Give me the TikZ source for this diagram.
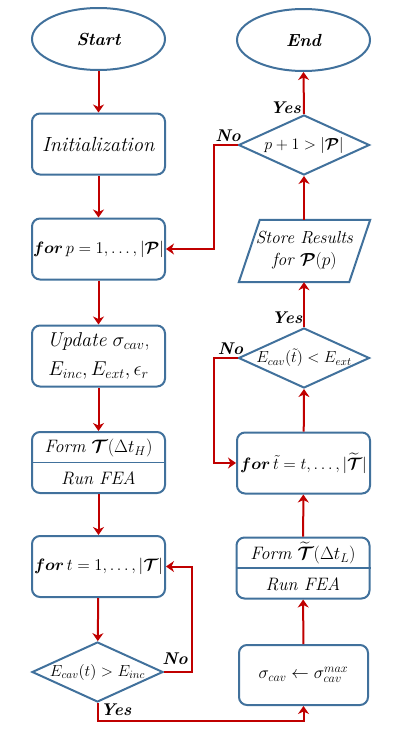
\RequirePackage{fix-cm}
\documentclass[tikz,border=0pt]{standalone}
\usepackage{amsmath,bm}
\usetikzlibrary{shapes.geometric,arrows.meta,calc}
\definecolor{bblue}{RGB}{65,113,156}
\definecolor{ared}{RGB}{192,0,0}
\begin{document}
\begin{tikzpicture}[x=1pt,y=-1pt,
 box/.style={draw=bblue, line width=2pt, rounded corners=8pt, minimum width=133pt, minimum height=61pt, inner sep=1pt, align=center, font=\fontsize{17.5}{23}\selectfont},
 txt/.style={inner sep=0pt, align=center, font=\fontsize{18}{22}\selectfont},
 term/.style={ellipse, draw=bblue, line width=2pt, minimum width=133pt, minimum height=62pt, inner sep=0pt, font=\fontsize{17.5}{20}\selectfont\bfseries\itshape},
 dec/.style={diamond, draw=bblue, line width=2pt, minimum width=131pt, minimum height=60pt, inner sep=0pt},
 dlab/.style={font=\fontsize{16}{18}\selectfont, inner sep=0pt},
 arr/.style={draw=ared, line width=2pt, -{Stealth[length=8pt,width=11pt,inset=2.5pt]}},
 lab/.style={font=\fontsize{17}{20}\selectfont\bfseries\itshape, inner sep=0pt}]
\useasboundingbox (0,0) rectangle (404,736);
% left column
\node[term] (start) at (98.5,39) {Start};
\node[box, font=\fontsize{20.5}{24}\selectfont] (init) at (98.5,144) {\textit{Initialization}};
\node[box, font=\fontsize{16.5}{20}\selectfont] (forp) at (98.5,249) {$\boldsymbol{for}\,p=1,\ldots,|\boldsymbol{\mathcal{P}}|$};
\node[box, font=\fontsize{20}{29}\selectfont] (upd) at (98.5,356) {\textit{Update} $\sigma_{cav}$,\\ $E_{inc}, E_{ext}, \epsilon_r$};
\node[box] (form) at (98.5,462.5) {};
\draw[draw=bblue, line width=1.6pt] (form.west) -- (form.east);
\node[txt] (formA) at (98.5,448) {\textit{Form} $\boldsymbol{\mathcal{T}}(\Delta t_H)$};
\node[txt] (formB) at (98.5,478) {\textit{Run FEA}};
\node[box, font=\fontsize{16.5}{20}\selectfont] (fort) at (98.5,566.5) {$\boldsymbol{for}\,t=1,\ldots,|\boldsymbol{\mathcal{T}}|$};
\node[dec, label={[dlab]center:$E_{cav}(t)>E_{inc}$}] (d1) at (97.5,672) {};
% right column
\node[term] (end) at (303.5,40) {End};
\node[dec, label={[dlab]center:$p+1>|\boldsymbol{\mathcal{P}}|$}] (d3) at (304,145) {};
\node[minimum width=110pt, minimum height=62pt, inner sep=0pt, align=center, font=\fontsize{17.5}{22}\selectfont] (store) at (304.5,251) {\textit{Store Results}\\ \textit{for} $\boldsymbol{\mathcal{P}}(p)$};
\draw[draw=bblue, line width=2pt, line join=miter]
  ([xshift=-10.5pt]store.south west) -- ([xshift=10.5pt]store.north west) --
  ([xshift=10.5pt]store.north east) -- ([xshift=-10.5pt]store.south east) -- cycle;
\node[dec, label={[dlab]center:$E_{cav}(\tilde{t})<E_{ext}$}] (d2) at (304,358) {};
\node[box, font=\fontsize{16.5}{20}\selectfont] (fortt) at (303.5,463) {$\boldsymbol{for}\,\tilde{t}=t,\ldots,|\widetilde{\boldsymbol{\mathcal{T}}}|$};
\node[box] (formt) at (303,568) {};
\draw[draw=bblue, line width=1.6pt] (formt.west) -- (formt.east);
\node[txt] (formtA) at (303,553) {\textit{Form} $\widetilde{\boldsymbol{\mathcal{T}}}(\Delta t_L)$};
\node[txt] (formtB) at (303,584) {\textit{Run FEA}};
\node[box, minimum width=129pt, minimum height=60pt] (sig) at (303.5,675) {$\sigma_{cav}\leftarrow\sigma_{cav}^{max}$};
% connectors
\draw[arr] (start) -- (init);
\draw[arr] (init) -- (forp);
\draw[arr] (forp) -- (upd);
\draw[arr] (upd) -- (form);
\draw[arr] (form) -- (fort);
\draw[arr] (fort) -- (d1);
\draw[arr] (d1.east) -- ++(28,0) |- (fort.east);
\coordinate (ylow) at (200,721);
\draw[arr] (d1.south) -- (d1.south |- ylow) -- (sig.south |- ylow) -- (sig.south);
\draw[arr] (sig) -- (formt);
\draw[arr] (formt) -- (fortt);
\draw[arr] (fortt) -- (d2.south);
\draw[arr] (d2.north) -- (store.south -| d2.north);
\draw[arr] (d2.west) -- ++(-24,0) |- (fortt.west);
\draw[arr] (store.north -| d3.south) -- (d3.south);
\draw[arr] (d3.north) -- (end.south);
\draw[arr] (d3.west) -- ++(-24,0) |- (forp.east);
% labels
\node[lab] (l1) at (228,136) {No};
\node[lab] (l2) at (285.5,107.5) {Yes};
\node[lab] (l3) at (287,318) {Yes};
\node[lab] (l4) at (230.5,349) {No};
\node[lab] (l5) at (175,659) {No};
\node[lab] (l6) at (116,710) {Yes};
\end{tikzpicture}
\end{document}
